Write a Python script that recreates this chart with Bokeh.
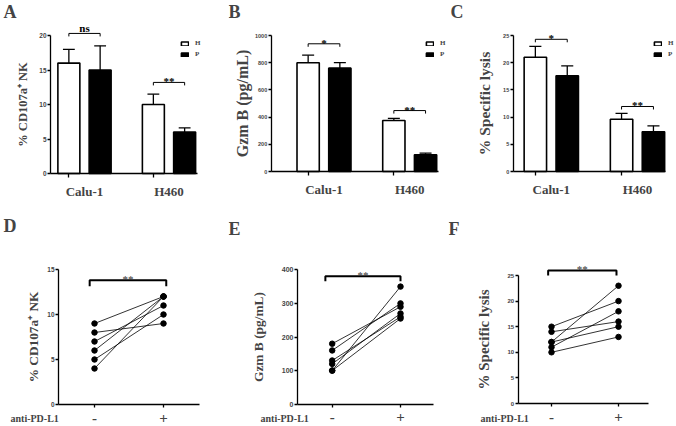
import numpy as np
from bokeh.plotting import figure
from bokeh.layouts import row, column
from bokeh.models import Range1d, FixedTicker, Legend, LegendItem, Label
from bokeh.embed import file_html
from bokeh.resources import INLINE

# ---------------- data ----------------
groups = ["Calu-1", "H460"]
series = ["H", "P"]

cd107_H = [16.0, 10.0]
cd107_H_err = [2.0, 1.5]
cd107_P = [15.0, 6.0]
cd107_P_err = [3.5, 0.6]
sig_A = ["ns", "**"]
sig_A_y = [20.3, 13.2]

gzmb_H = [800, 375]
gzmb_H_err = [55, 15]
gzmb_P = [760, 123]
gzmb_P_err = [40, 12]
sig_B = ["*", "**"]
sig_B_y = [939, 448]

lysis_H = [21.0, 9.6]
lysis_H_err = [2.0, 1.1]
lysis_P = [17.6, 7.3]
lysis_P_err = [1.8, 1.1]
sig_C = ["*", "**"]
sig_C_y = [24.3, 11.95]

treat = ["-", "+"]
d_minus = [9, 8, 7, 6, 5, 4]
d_plus = [12, 9, 11, 12, 10, 12]
e_minus = [180, 160, 130, 120, 100, 100]
e_plus = [290, 300, 260, 270, 350, 255]
f_minus = [15, 14, 12, 12, 11, 10]
f_plus = [20, 16, 23, 15, 18, 13]
sig_D = ["**", -0.07, 1.04, 13.8]
sig_E = ["**", -0.10, 1.00, 381]
sig_F = ["**", -0.05, 0.97, 26.0]

SERIF = "Liberation Serif"
SANS = "Liberation Sans"


def base_fig(box, xmap, ymap, yaxis_px, xend_px, yticks, ylabel, ylab_size, tick_size, ylab_standoff):
    ox, oy, w, h = box
    x0px, xppu = xmap
    y0px, yppu = ymap
    xr = ((ox - x0px) / xppu, (ox + w - x0px) / xppu)
    yr = ((y0px - (oy + h)) / yppu, (y0px - oy) / yppu)
    p = figure(width=w, height=h, x_range=Range1d(*xr), y_range=Range1d(*yr),
               output_backend="svg", toolbar_location=None,
               min_border_left=0, min_border_right=0, min_border_top=0, min_border_bottom=0)
    p.xgrid.visible = False
    p.ygrid.visible = False
    p.outline_line_color = None
    yloc = (yaxis_px - x0px) / xppu
    xend = (xend_px - x0px) / xppu
    ya = p.yaxis[0]
    ya.fixed_location = yloc
    ya.ticker = FixedTicker(ticks=yticks)
    ya.bounds = (yticks[0], yticks[-1])
    ya.major_tick_out = 3
    ya.major_tick_in = 0
    ya.minor_tick_line_color = None
    ya.axis_line_width = 1.3
    ya.major_tick_line_width = 1.3
    ya.major_label_text_font = SANS
    ya.major_label_text_font_style = "bold"
    ya.major_label_text_font_size = tick_size
    ya.major_label_standoff = 1
    ya.axis_label = ylabel
    ya.axis_label_text_font = SERIF
    ya.axis_label_text_font_style = "bold"
    ya.axis_label_text_font_size = ylab_size
    ya.axis_label_standoff = ylab_standoff
    xa = p.xaxis[0]
    xa.fixed_location = 0
    xa.bounds = (yloc, xend)
    xa.axis_line_width = 1.3
    xa.major_tick_line_width = 1.3
    xa.minor_tick_line_width = 1.3
    upp = (yr[1] - yr[0]) / h
    return p, upp


def letter(p, text, x_px, top_px, size="18px"):
    # positions in pixels from the figure's top-left corner
    p.add_layout(Label(x=x_px, y=p.height - top_px, x_units="screen", y_units="screen", text=text,
                       text_font=SERIF, text_font_style="bold", text_font_size=size,
                       text_baseline="top", text_align="left"))


def bar_panel(H, Herr, P, Perr, sig, sig_y, box, xmap, ymap, yaxis_px, xend_px, yticks,
              ylabel, ylab_size, tick_size, ylab_standoff, leg_px, let, let_px):
    p, upp = base_fig(box, xmap, ymap, yaxis_px, xend_px, yticks, ylabel, ylab_size, tick_size,
                      ylab_standoff)
    centers = np.arange(len(groups), dtype=float)
    off, bw, cap = 0.185, 0.26, 0.14
    xH = centers - off
    xP = centers + off
    rH = p.vbar(x=xH, top=H, width=bw, fill_color="white", line_color="black", line_width=1.6)
    rP = p.vbar(x=xP, top=P, width=bw, fill_color="black", line_color="black", line_width=1.6)
    for xs, v, e in ((xH, H, Herr), (xP, P, Perr)):
        v = np.array(v, float)
        t = v + np.array(e, float)
        p.segment(x0=xs, y0=v, x1=xs, y1=t, line_color="black", line_width=1.3)
        p.segment(x0=xs - cap / 2, y0=t, x1=xs + cap / 2, y1=t, line_color="black", line_width=1.3)
    drop = 3 * upp
    for i, (lab, yy) in enumerate(zip(sig, sig_y)):
        p.multi_line(xs=[[xH[i], xH[i], xP[i], xP[i]]], ys=[[yy - drop, yy, yy, yy - drop]],
                     line_color="black", line_width=1.0)
        gap = 5 if lab.isalpha() else 1
        p.text(x=[(xH[i] + xP[i]) / 2], y=[yy + gap * upp], text=[lab], text_align="center",
               text_baseline="alphabetic", text_font=SERIF, text_font_style="bold",
               text_font_size="11px", text_color="black")
    xa = p.xaxis[0]
    xa.ticker = FixedTicker(ticks=list(centers), minor_ticks=list(xH))
    xa.major_label_overrides = {float(c): g for c, g in zip(centers, groups)}
    xa.major_tick_out = 0
    xa.major_tick_in = 0
    xa.minor_tick_out = 4
    xa.minor_tick_in = 0
    xa.major_label_standoff = 6
    xa.major_label_text_font = SERIF
    xa.major_label_text_font_style = "bold"
    xa.major_label_text_font_size = "13px"
    leg = Legend(items=[LegendItem(label=series[0], renderers=[rH]),
                        LegendItem(label=series[1], renderers=[rP])],
                 location=(leg_px[0], p.height - leg_px[1]), glyph_width=9, glyph_height=5,
                 label_standoff=6, spacing=3, padding=0, margin=0, label_height=8,
                 border_line_color=None, background_fill_alpha=0,
                 label_text_font=SERIF, label_text_font_style="bold",
                 label_text_font_size="7px")
    p.add_layout(leg)
    letter(p, let, *let_px)
    return p


def pair_panel(minus, plus, sig, box, xmap, ymap, yaxis_px, xend_px, yticks, ylabel, ylab_size,
               tick_size, ylab_standoff, drop_px, let, let_px, anti_px):
    p, upp = base_fig(box, xmap, ymap, yaxis_px, xend_px, yticks, ylabel, ylab_size, tick_size,
                      ylab_standoff)
    n = len(minus)
    p.segment(x0=[0] * n, y0=minus, x1=[1] * n, y1=plus, line_color="black", line_width=0.8)
    p.scatter(x=[0] * n, y=minus, size=5.5, color="black")
    p.scatter(x=[1] * n, y=plus, size=5.5, color="black")
    lab, xa0, xa1, yy = sig
    d = drop_px * upp
    p.multi_line(xs=[[xa0, xa0, xa1, xa1]], ys=[[yy - d, yy, yy, yy - d]],
                 line_color="black", line_width=2)
    p.text(x=[(xa0 + xa1) / 2], y=[yy + 1 * upp], text=[lab], text_align="center",
           text_baseline="alphabetic", text_font=SERIF, text_font_size="11px",
           text_color="#333333")
    xa = p.xaxis[0]
    xa.ticker = FixedTicker(ticks=[0, 1])
    xa.major_label_overrides = {0: treat[0], 1: treat[1]}
    xa.major_tick_out = 3
    xa.major_tick_in = 0
    xa.major_label_standoff = 5
    xa.major_label_text_font = SERIF
    xa.major_label_text_font_style = "bold"
    xa.major_label_text_font_size = "15px"
    xa.minor_tick_line_color = None
    letter(p, let, *let_px)
    p.add_layout(Label(x=anti_px[0], y=p.height - anti_px[1], x_units="screen", y_units="screen",
                       text="anti-PD-L1", text_font=SERIF, text_font_style="bold",
                       text_font_size="10px", text_baseline="middle", text_align="left"))
    return p


pA = bar_panel(cd107_H, cd107_H_err, cd107_P, cd107_P_err, sig_A, sig_A_y,
               (0, 0, 228, 210), (84, 84.5), (173, 6.9), 50, 197, [0, 5, 10, 15, 20],
               "% CD107a\u207a NK", "12.5px", "6.5px", 6, (180, 58), "A", (3, 1))
pB = bar_panel(gzmb_H, gzmb_H_err, gzmb_P, gzmb_P_err, sig_B, sig_B_y,
               (228, 0, 220, 210), (323.5, 85.7), (171, 0.136), 270.7, 438,
               [0, 200, 400, 600, 800, 1000],
               "Gzm B (pg/mL)", "16px", "5.5px", 1, (197, 58), "B", (0, 1))
pC = bar_panel(lysis_H, lysis_H_err, lysis_P, lysis_P_err, sig_C, sig_C_y,
               (448, 0, 227, 210), (550.8, 86.2), (171, 5.44), 512.7, 665,
               [0, 5, 10, 15, 20, 25],
               "% Specific lysis", "15.5px", "5.5px", 7, (205, 58), "C", (2, 1))

pD = pair_panel(d_minus, d_plus, sig_D, (0, 210, 228, 215), (94, 69), (404, 9), 58, 199,
                [0, 5, 10, 15], "% CD107a\u207a NK", "13.3px", "6.5px", 3, 6, "D", (3, 5),
                (10, 208))
pE = pair_panel(e_minus, e_plus, sig_E, (228, 210, 220, 215), (331.7, 68.3), (403.7, 0.336), 297,
                433, [0, 100, 200, 300, 400], "Gzm B (pg/mL)", "13.4px", "7px", 13, 5, "E",
                (0, 8), (32, 208))
pF = pair_panel(f_minus, f_plus, sig_F, (448, 210, 227, 215), (551, 67), (403, 5.12), 517.7, 648,
                [0, 5, 10, 15, 20, 25], "% Specific lysis", "15px", "6px", 13, 5, "F", (0, 8),
                (32, 208))

layout = column(row(pA, pB, pC), row(pD, pE, pF))
open("out.html", "w").write(file_html(layout, INLINE))
